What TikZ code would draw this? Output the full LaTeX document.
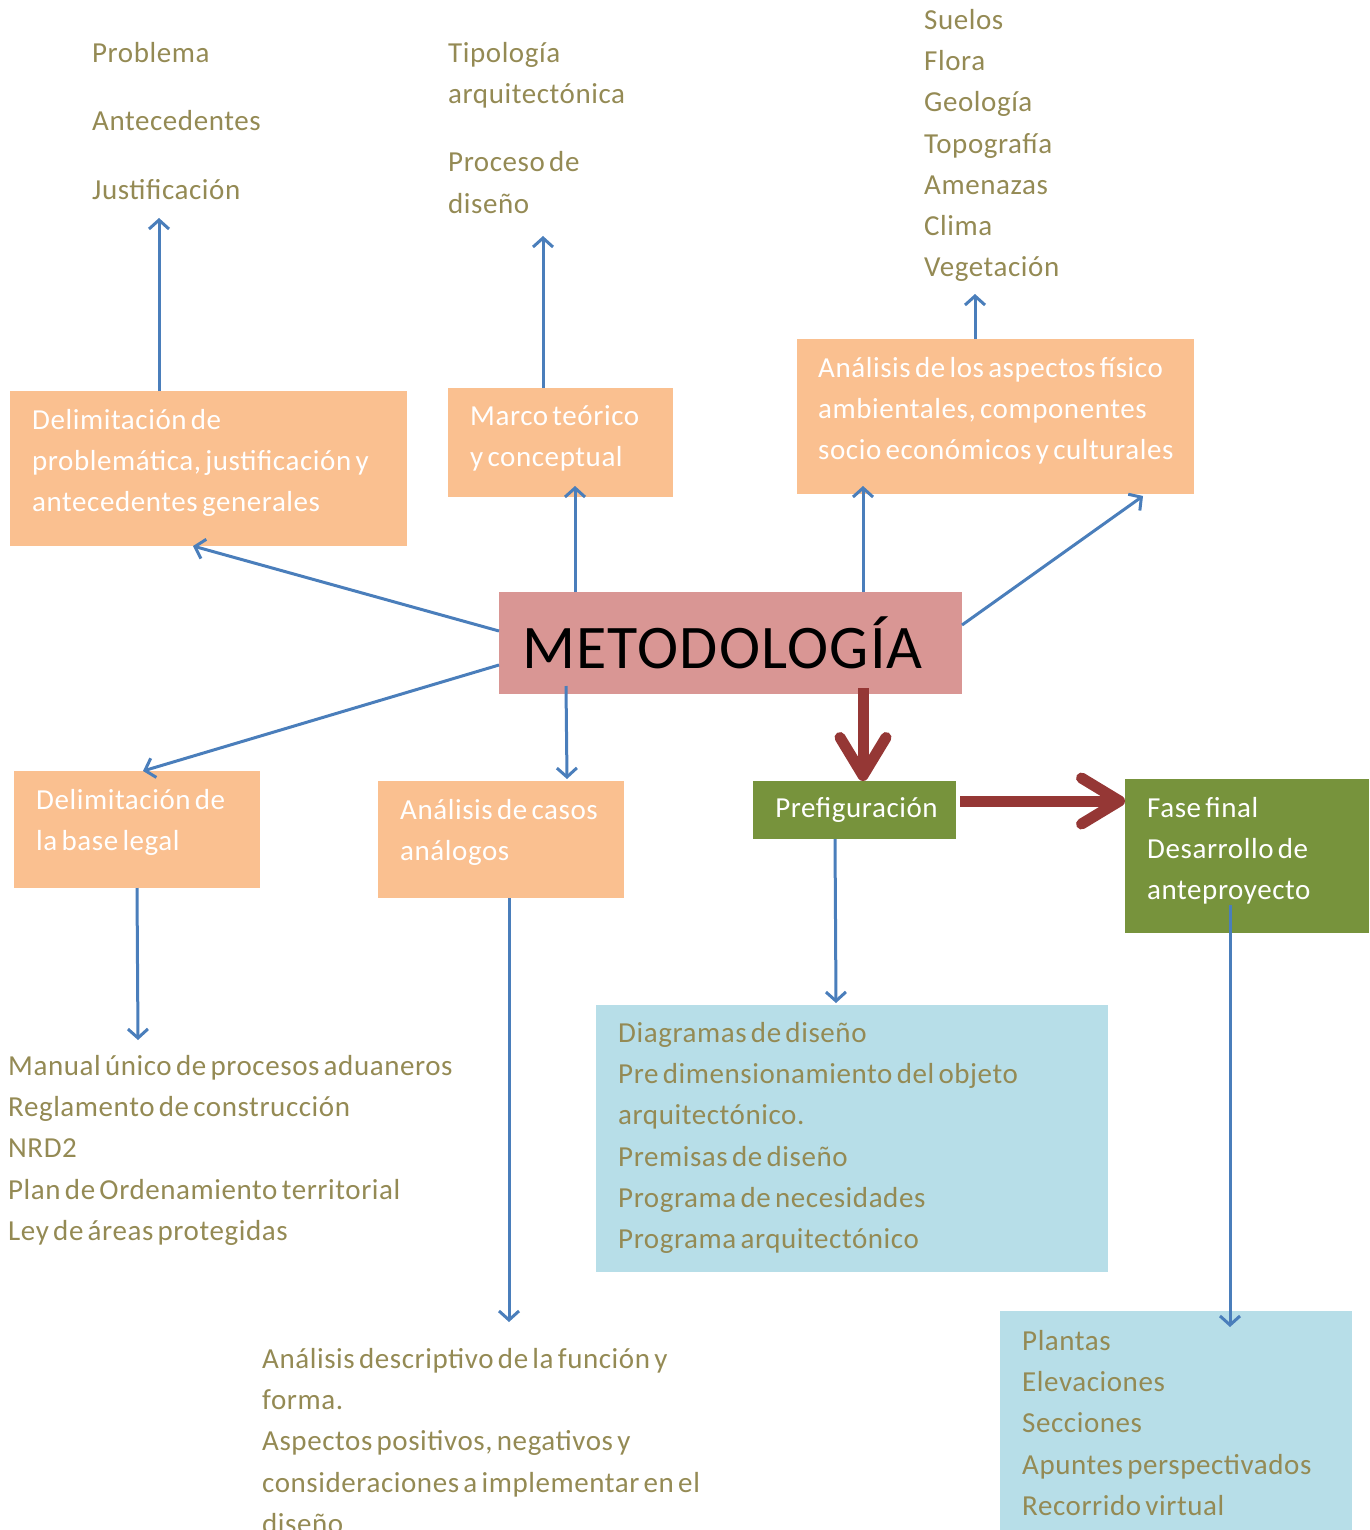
\documentclass[tikz,border=0pt]{standalone}
\usepackage{fontspec}
\setmainfont{Carlito}[LetterSpace=2.0, WordSpace=0.6]
\usetikzlibrary{arrows.meta}
\definecolor{orangebox}{HTML}{FAC090}
\definecolor{pinkbox}{HTML}{D99694}
\definecolor{greenbox}{HTML}{77933C}
\definecolor{bluebox}{HTML}{B7DEE8}
\definecolor{olivetext}{HTML}{948A54}
\definecolor{bluearrow}{HTML}{4A7EBB}
\definecolor{redarrow}{HTML}{953735}
\begin{document}
\begin{tikzpicture}[x=1pt,y=-1pt,
 box/.style={anchor=north west, inner sep=0, outer sep=0},
 obox/.style={box, fill=orangebox},
 gbox/.style={box, fill=greenbox},
 lbox/.style={box, fill=bluebox},
 txt/.style={anchor=north west, inner sep=0, align=left, font=\fontsize{29}{41.3}\selectfont, text=olivetext},
 wtxt/.style={txt, text=white},
 barrow/.style={draw=bluearrow, line width=3pt, -{Straight Barb[length=9pt,width=20pt]}},
 rarrow/.style={draw=redarrow, line width=11pt, -{Straight Barb[length=38pt,width=46pt,round]}}]
\useasboundingbox (0,0) rectangle (1369,1530);
\clip (0,0) rectangle (1369,1530);

% boxes
\node[obox, minimum width=397pt, minimum height=155pt] (b1) at (10,391) {};
\node[obox, minimum width=225pt, minimum height=109pt] (marco) at (448,388) {};
\node[obox, minimum width=397pt, minimum height=155pt] (asp) at (797,339) {};
\node[box, fill=pinkbox, minimum width=463pt, minimum height=102pt] (meta) at (499,592) {};
\node[obox, minimum width=246pt, minimum height=117pt] (legal) at (14,771) {};
\node[obox, minimum width=246pt, minimum height=117pt] (casos) at (378,781) {};
\node[gbox, minimum width=203pt, minimum height=58pt] (pref) at (753,781) {};
\node[gbox, minimum width=244pt, minimum height=154pt] (fase) at (1125,779) {};
\node[lbox, minimum width=512pt, minimum height=267pt] (lb1) at (596,1005) {};
\node[lbox, minimum width=352pt, minimum height=219pt] (lb2) at (1000,1311) {};

% box texts
\node[wtxt] (b1t) at (32,400) {\strut Delimitación de\\problemática, justificación y\\antecedentes generales};
\node[wtxt] (marcot) at (470,396) {\strut Marco teórico\\y conceptual};
\node[wtxt] (aspt) at (818,348) {\strut Análisis de los aspectos físico\\ambientales, componentes\\socio económicos y culturales};
\node[anchor=center, inner sep=0, font=\fontsize{62}{70}\selectfont, text=black] (metat) at ([xshift=-8pt]meta.center) {METODOLOGÍA};
\node[wtxt] (legalt) at (36,780) {\strut Delimitación de\\la base legal};
\node[wtxt] (casost) at (400,790) {\strut Análisis de casos\\análogos};
\node[anchor=center, inner sep=0, font=\fontsize{29}{41.3}\selectfont, text=white] (preft) at ([xshift=2pt]pref.center) {Prefiguración};
\node[wtxt] (faset) at (1147,788) {\strut Fase final\\Desarrollo de\\anteproyecto};
\node[txt] (lb1t) at (618,1013) {\strut Diagramas de diseño\\Pre dimensionamiento del objeto\\arquitectónico.\\Premisas de diseño\\Programa de necesidades\\Programa arquitectónico};
\node[txt] (lb2t) at (1022,1321) {\strut Plantas\\Elevaciones\\Secciones\\Apuntes perspectivados\\Recorrido virtual};

% free lists
\node[txt] (t1) at (92,33) {\strut Problema\\[27.5pt]Antecedentes\\[27.5pt]Justificación};
\node[txt] (t2) at (448,33) {\strut Tipología\\arquitectónica\\[27pt]Proceso de\\diseño};
\node[txt] (t3) at (924,0) {\strut Suelos\\Flora\\Geología\\Topografía\\Amenazas\\Clima\\Vegetación};
\node[txt] (t4) at (8,1046) {\strut Manual único de procesos aduaneros\\Reglamento de construcción\\NRD2\\Plan de Ordenamiento territorial\\Ley de áreas protegidas};
\node[txt] (t5) at (262,1339) {\strut Análisis descriptivo de la función y\\forma.\\Aspectos positivos, negativos y\\consideraciones a implementar en el\\diseño};

% arrow tips near free lists
\coordinate (p1) at (159,218);
\coordinate (p2) at (543,236);
\coordinate (p3) at (975,294);
\coordinate (p4) at (138,1040);
\coordinate (p5) at (509,1322);

% blue arrows
\draw[barrow] (b1.north -| p1) -- (p1);
\draw[barrow] (marco.north -| p2) -- (p2);
\draw[barrow] (asp.north -| p3) -- (p3);
\draw[barrow] ([xshift=123pt]legal.south west) -- (p4);
\draw[barrow] (casos.south -| p5) -- (p5);
\draw[barrow] ([yshift=12pt]meta.west) -- ([xshift=183pt]b1.south west);
\draw[barrow] ([xshift=76pt]meta.north west) -- ([xshift=127pt,yshift=11pt]marco.south west);
\draw[barrow] ([xshift=364pt]meta.north west) -- ([xshift=66pt,yshift=8pt]asp.south west);
\draw[barrow] ([yshift=18pt]meta.east) -- ([xshift=346pt,yshift=-2pt]asp.south west);
\draw[barrow] ([yshift=-22pt]meta.west) -- ([xshift=129pt]legal.north west);
\draw[barrow] ([xshift=67pt,yshift=8pt]meta.south west) -- ([xshift=189pt,yshift=2pt]casos.north west);
\draw[barrow] ([xshift=82pt]pref.south west) -- ([xshift=240pt,yshift=2pt]lb1.north west);
\draw[barrow] ([xshift=105pt,yshift=28pt]fase.south west) -- ([xshift=230pt,yshift=-16pt]lb2.north west);

% red arrows
\draw[rarrow] ([xshift=364pt,yshift=6pt]meta.south west) -- ([xshift=110pt]pref.north west);
\draw[rarrow] ([xshift=4pt,yshift=9pt]pref.east) -- ([yshift=9pt]fase.west |- pref.east);
\end{tikzpicture}
\end{document}
